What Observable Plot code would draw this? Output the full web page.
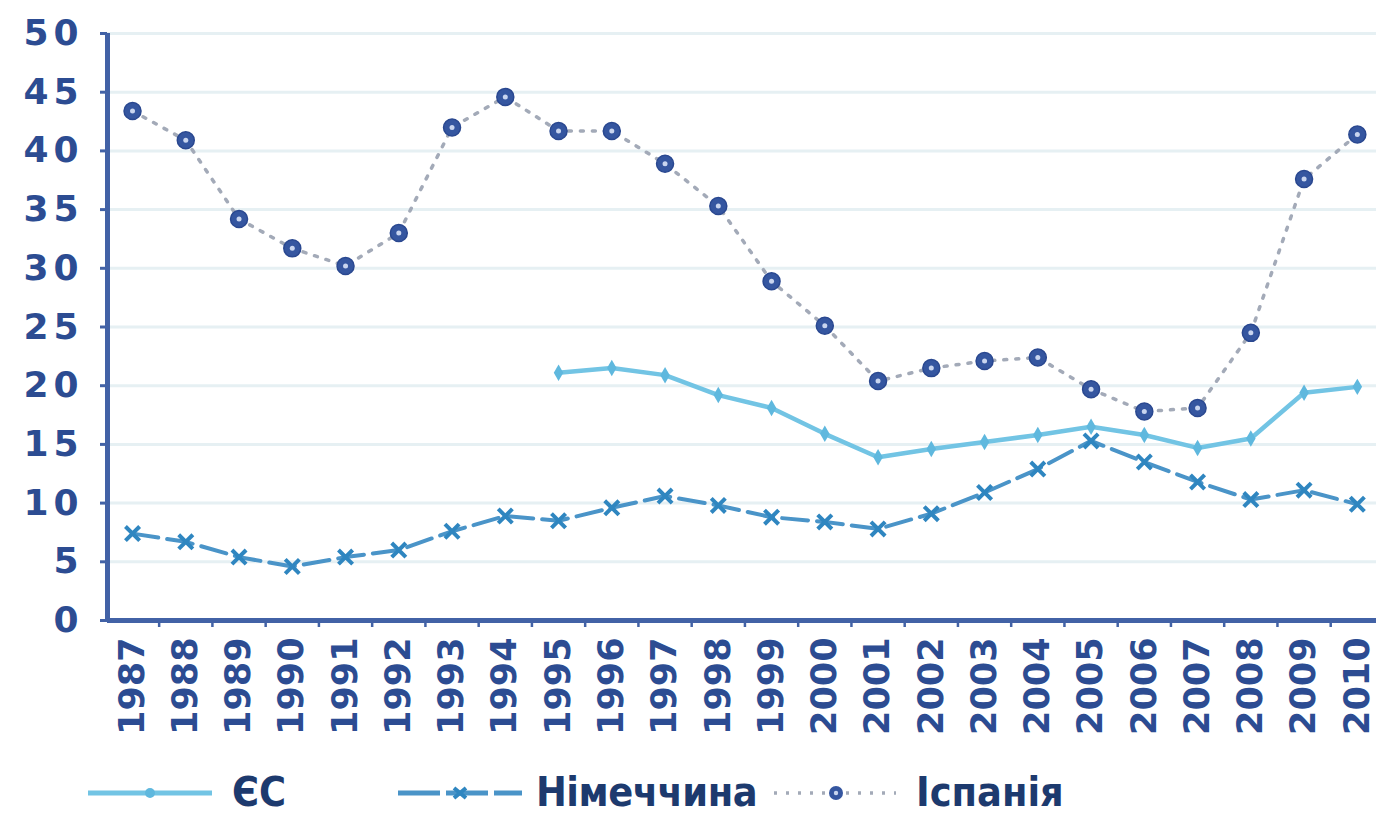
<!DOCTYPE html>
<html>
<head>
<meta charset="utf-8">
<script src="https://cdn.jsdelivr.net/npm/d3@7"></script>
<script src="https://cdn.jsdelivr.net/npm/@observablehq/plot@0.6"></script>
<style>
  html, body { margin: 0; padding: 0; background: #fff; width: 1376px; height: 825px; overflow: hidden; }
  #chart svg { display: block; }
  #legend { position: relative; height: 65px; font-family: "Liberation Sans Narrow", "DejaVu Sans Condensed", "Liberation Sans", sans-serif; font-weight: bold; color: #1d3a6e; }
  .item { position: absolute; top: 0; height: 65px; display: flex; align-items: center; }
  .item span { font-size: 41px; line-height: 1; }
</style>
</head>
<body>
<div id="chart"></div>
<div id="legend">
  <div class="item" style="left:86px"><svg width="130" height="20"><line x1="2" x2="126" y1="10" y2="10" stroke="#72c4e4" stroke-width="5"/><circle cx="64" cy="10" r="5" fill="#5fb8de"/></svg><span style="margin-left:16px">ЄС</span></div>
  <div class="item" style="left:396px"><svg width="130" height="20"><line x1="2" x2="126" y1="10" y2="10" stroke="#4a94c8" stroke-width="5" stroke-dasharray="42,6"/><path d="M58,5 L70,15 M70,5 L58,15" stroke="#2f86c0" stroke-width="4"/></svg><span style="margin-left:10px; letter-spacing:-0.5px">Німеччина</span></div>
  <div class="item" style="left:770px"><svg width="130" height="20"><line x1="4" x2="126" y1="10" y2="10" stroke="#a3aab8" stroke-width="3.5" stroke-dasharray="3,9"/><circle cx="66" cy="10" r="7" fill="#3556a0"/><circle cx="66" cy="10" r="2.2" fill="#c9d5ef"/></svg><span style="margin-left:16px">Іспанія</span></div>
</div>
<script>
const years = [1987,1988,1989,1990,1991,1992,1993,1994,1995,1996,1997,1998,1999,2000,2001,2002,2003,2004,2005,2006,2007,2008,2009,2010];
const spain = [43.4,40.9,34.2,31.7,30.2,33.0,42.0,44.6,41.7,41.7,38.9,35.3,28.9,25.1,20.4,21.5,22.1,22.4,19.7,17.8,18.1,24.5,37.6,41.4];
const euYears = [1995,1996,1997,1998,1999,2000,2001,2002,2003,2004,2005,2006,2007,2008,2009,2010];
const eu = [21.1,21.5,20.9,19.2,18.1,15.9,13.9,14.6,15.2,15.8,16.5,15.8,14.7,15.5,19.4,19.9];
const germany = [7.4,6.7,5.4,4.6,5.4,6.0,7.6,8.9,8.5,9.6,10.6,9.8,8.8,8.4,7.8,9.1,10.9,12.9,15.3,13.5,11.8,10.3,11.1,9.9];
const yTicks = [0,5,10,15,20,25,30,35,40,45,50];
const gridTicks = [5,10,15,20,25,30,35,40,45,50];

const spainData = years.map((y, i) => ({year: y, v: spain[i]}));
const gerData = years.map((y, i) => ({year: y, v: germany[i]}));
const euData = euYears.map((y, i) => ({year: y, v: eu[i]}));
const boundaries = years.map(y => y + 0.5);

const navy = "#4262a6";
const tickFont = "DejaVu Sans, sans-serif";

const plot = Plot.plot({
  width: 1376,
  height: 760,
  marginLeft: 107,
  marginRight: 0,
  marginTop: 33,
  marginBottom: 140,
  x: {type: "linear", domain: [1986.53, 2010.36]},
  y: {domain: [0, 50]},
  style: {background: "#fff", overflow: "visible"},
  marks: [
    Plot.ruleY(gridTicks, {stroke: "#e6f0f3", strokeWidth: 3}),
    Plot.axisY(yTicks, {tickSize: 7, tickPadding: 17, stroke: navy, strokeWidth: 3, fill: "#2c4c92", fontSize: 36, fontWeight: "bold", fontFamily: tickFont, tickFormat: d => String(d), label: null}),
    Plot.axisX(boundaries, {tickSize: 7, stroke: navy, strokeWidth: 2.5, tickFormat: () => "", label: null}),
    Plot.axisX(years, {tickSize: 0, tickPadding: 17, tickRotate: -90, fill: "#2c4c92", fontSize: 35, fontWeight: "bold", fontFamily: tickFont, tickFormat: d => String(d), label: null}),
    Plot.ruleY([0], {stroke: navy, strokeWidth: 5}),
    Plot.ruleX([1986.53], {stroke: navy, strokeWidth: 5}),
    Plot.line(spainData, {x: "year", y: "v", stroke: "#a3aab8", strokeWidth: 3.5, strokeDasharray: "3,9", strokeLinecap: "round"}),
    Plot.line(euData, {x: "year", y: "v", stroke: "#72c4e4", strokeWidth: 4.5}),
    Plot.dot(euData, {x: "year", y: "v", r: 5, fill: "#5fb8de", symbol: "diamond"}),
    Plot.line(gerData, {x: "year", y: "v", stroke: "#4a94c8", strokeWidth: 4, strokeDasharray: "26,9"}),
    Plot.dot(gerData, {x: "year", y: "v", r: 6.5, stroke: "#2f86c0", strokeWidth: 4, symbol: "times"}),
    Plot.dot(spainData, {x: "year", y: "v", r: 8.5, fill: "#3556a0", stroke: "#2a4890", strokeWidth: 1.5}),
    Plot.dot(spainData, {x: "year", y: "v", r: 2.5, fill: "#c9d5ef"})
  ]
});
d3.select(plot).selectAll("g[aria-label='y-axis tick label'] text").attr("letter-spacing", "5");
document.getElementById("chart").appendChild(plot);
</script>
</body>
</html>
